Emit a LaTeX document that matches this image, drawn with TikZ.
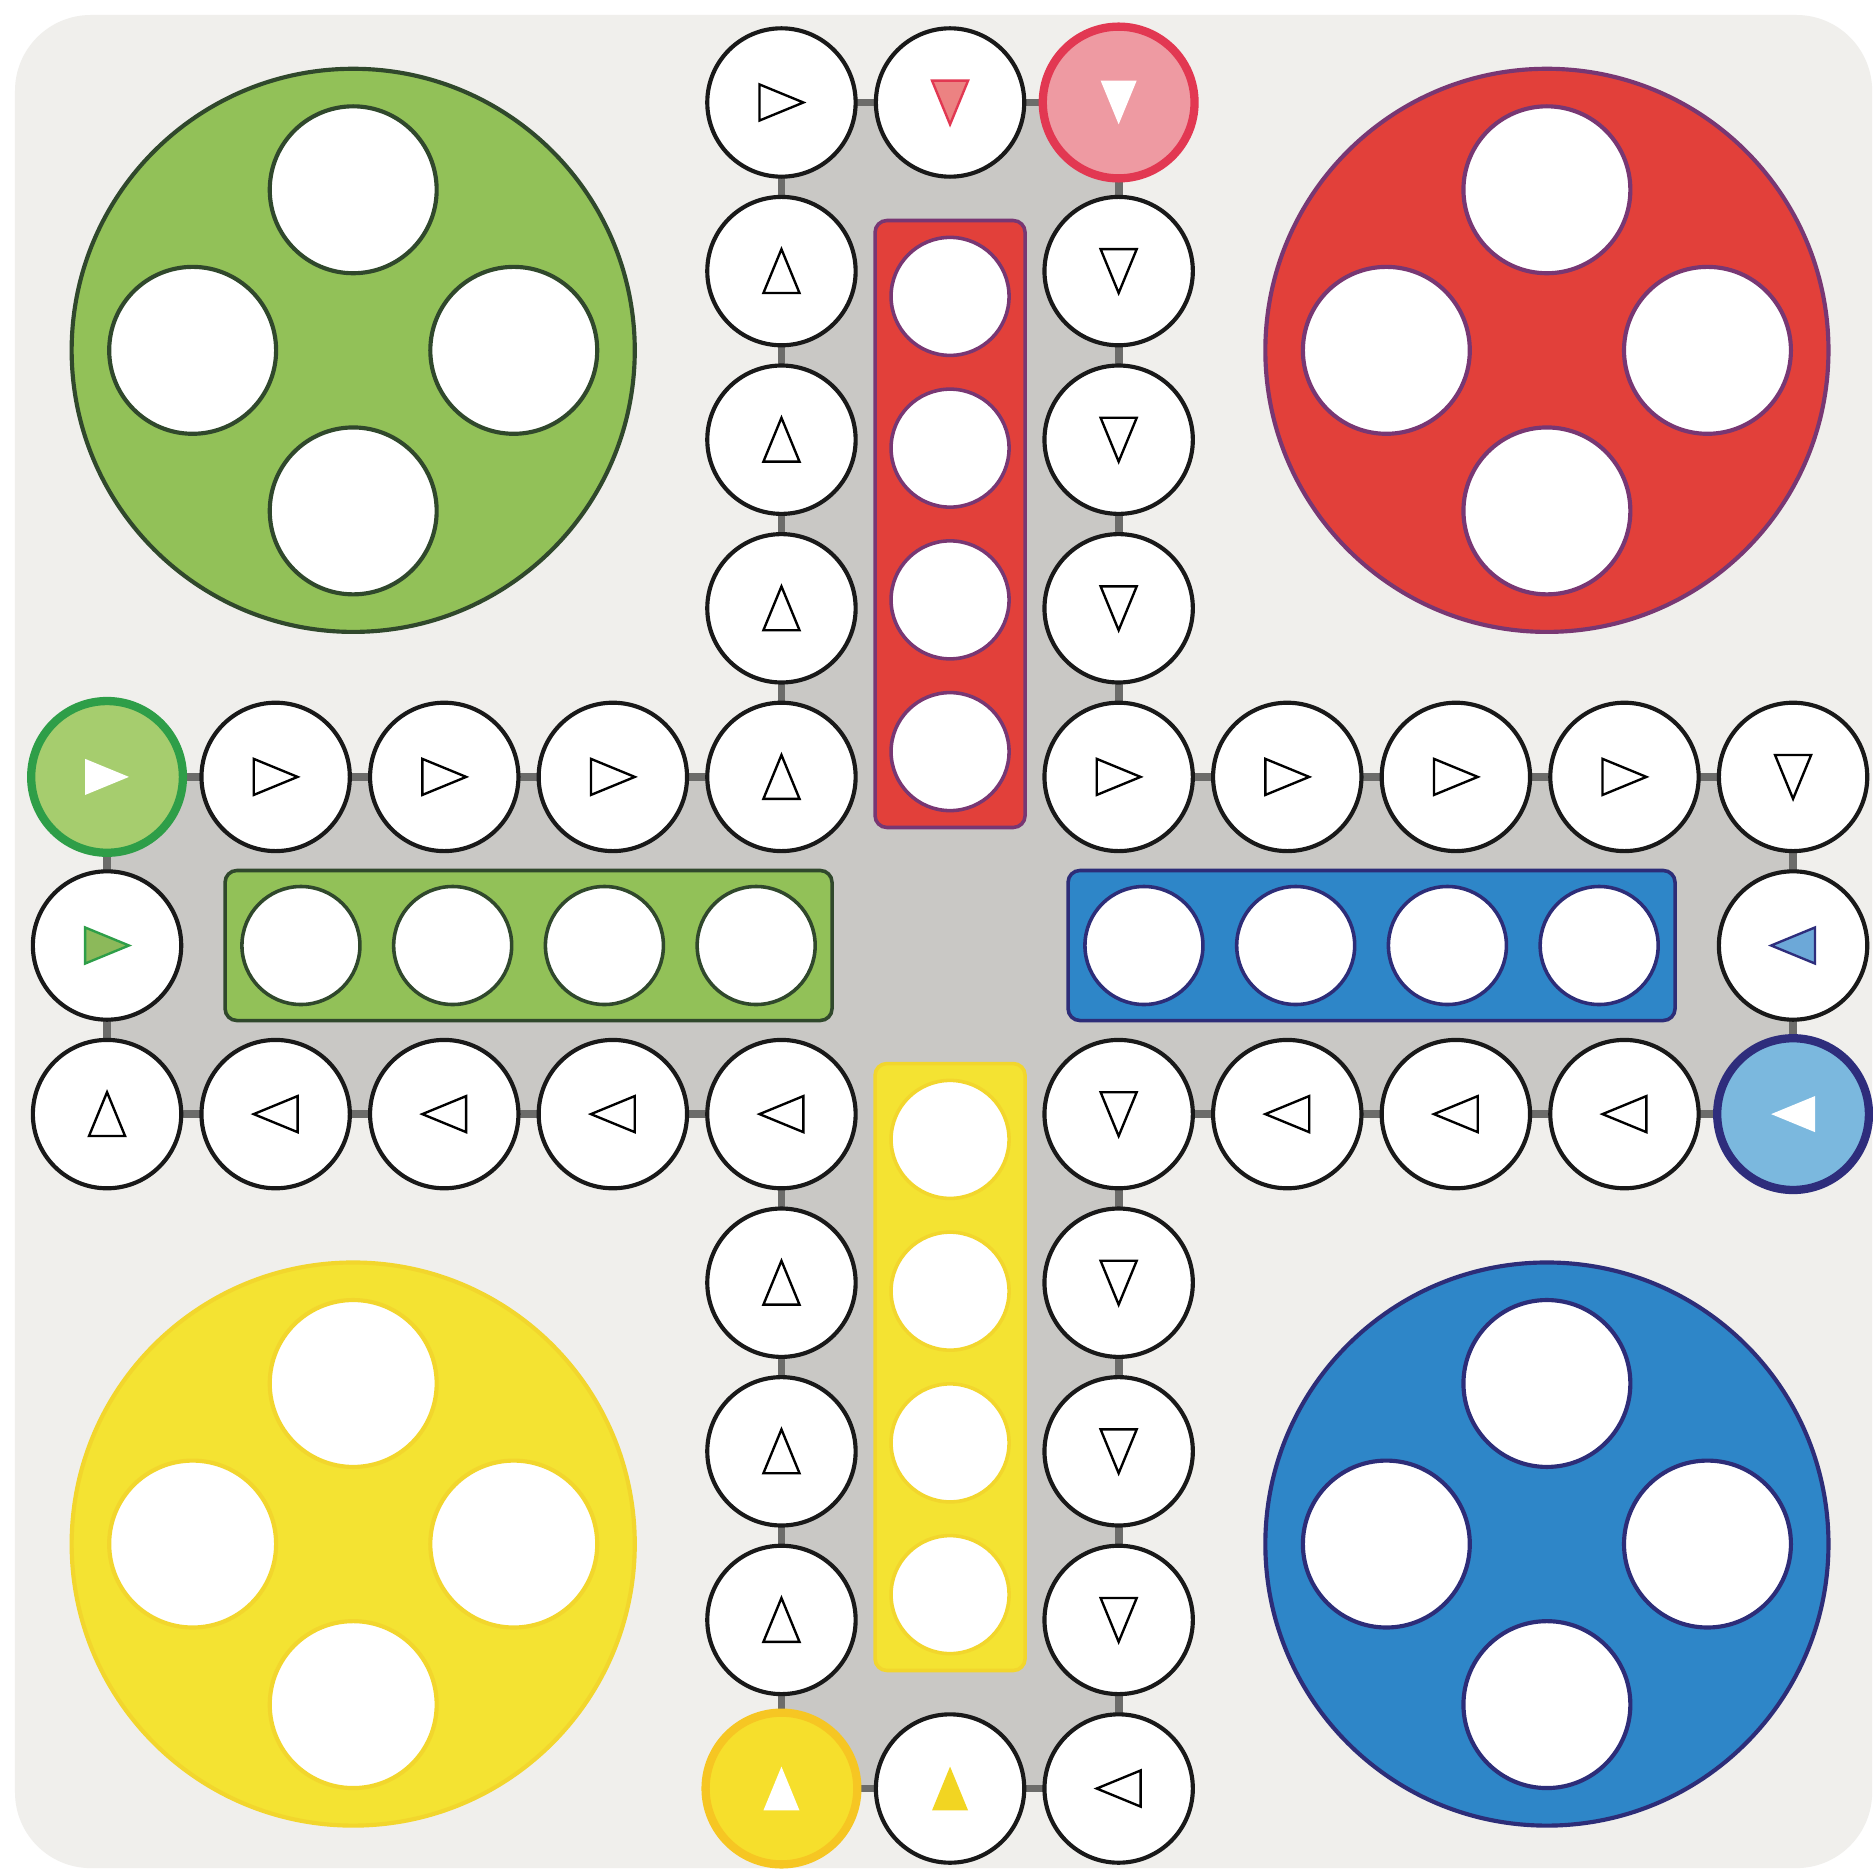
\documentclass[tikz,border=0pt]{standalone}
\usetikzlibrary{positioning, backgrounds}
\definecolor{boardgrey}{RGB}{240,239,236}
\definecolor{crossgrey}{RGB}{201,200,197}
\definecolor{linkgrey}{RGB}{108,108,106}
\definecolor{greenbase}{RGB}{146,193,88}
\definecolor{greenline}{RGB}{48,72,44}
\definecolor{greenstart}{RGB}{166,205,110}
\definecolor{greenring}{RGB}{46,158,72}
\definecolor{greenmark}{RGB}{140,185,90}
\definecolor{redbase}{RGB}{226,64,58}
\definecolor{redline}{RGB}{120,55,115}
\definecolor{redstart}{RGB}{238,154,162}
\definecolor{redring}{RGB}{226,56,82}
\definecolor{redmark}{RGB}{236,130,130}
\definecolor{bluebase}{RGB}{46,134,200}
\definecolor{blueline}{RGB}{45,45,120}
\definecolor{bluestart}{RGB}{123,184,222}
\definecolor{bluering}{RGB}{46,45,124}
\definecolor{bluemark}{RGB}{108,168,216}
\definecolor{yellowbase}{RGB}{244,227,50}
\definecolor{yellowline}{RGB}{242,214,45}
\definecolor{yellowstart}{RGB}{246,223,44}
\definecolor{yellowring}{RGB}{246,198,35}
\definecolor{yellowmark}{RGB}{242,213,34}

\begin{document}
\begin{tikzpicture}[
    cell/.style={circle, draw=black!90, line width=0.7pt, fill=white, minimum size=0.88cm, inner sep=0pt},
    startcell/.style={cell, line width=1.4pt, minimum size=0.9cm, draw=#1ring, fill=#1start},
    yard/.style={circle, draw=#1line, line width=0.7pt, fill=#1base, minimum size=3.34cm, inner sep=0pt},
    hole/.style={circle, draw=#1line, line width=0.7pt, fill=white, minimum size=0.99cm, inner sep=0pt},
    lane/.style={rectangle, draw=#1line, line width=0.6pt, fill=#1base, rounded corners=2pt, inner sep=0pt},
    spot/.style={circle, draw=#1line, line width=0.6pt, fill=white, minimum size=0.7cm, inner sep=0pt},
    link/.style={line width=1.3pt, linkgrey},
    plaintri/.style={draw=black, fill=white},
    whitetri/.style={draw=none, fill=white},
    redtri/.style={draw=redring, fill=redmark},
    greentri/.style={draw=greenring, fill=greenmark},
    bluetri/.style={draw=bluering, fill=bluemark},
    yellowtri/.style={draw=none, fill=yellowmark},
    pics/tri/.style={code={\draw[line width=0.4pt, line join=miter, #1] (-0.107,-0.13) -- (0.107,-0.13) -- (0,0.13) -- cycle;}}
]
\useasboundingbox (-5.635,-5.507) rectangle (5.474,5.608);

% 四个基地
\foreach \col/\x/\y in {green/-3.54/3.53, red/3.54/3.53, yellow/-3.54/-3.55, blue/3.54/-3.55}{
  \node[yard=\col] (\col_yard) at (\x,\y) {};
  \node[hole=\col, above=0.445cm of \col_yard.center] (\col_hole1) {};
  \node[hole=\col, left=0.445cm of \col_yard.center] (\col_hole2) {};
  \node[hole=\col, below=0.445cm of \col_yard.center] (\col_hole3) {};
  \node[hole=\col, right=0.445cm of \col_yard.center] (\col_hole4) {};
}

% 终点通道
\node[lane=red, minimum width=0.89cm, minimum height=3.6cm] (red_lane) at (0,2.5) {};
\node[lane=yellow, minimum width=0.89cm, minimum height=3.6cm] (yellow_lane) at (0,-2.5) {};
\node[lane=green, minimum width=3.6cm, minimum height=0.89cm] (green_lane) at (-2.5,0) {};
\node[lane=blue, minimum width=3.6cm, minimum height=0.89cm] (blue_lane) at (2.5,0) {};
\foreach \d [count=\k] in {1.15,2.05,2.95,3.85}{
  \node[spot=red] (red_spot\k) at (0,\d) {};
  \node[spot=yellow] (yellow_spot\k) at (0,-\d) {};
  \node[spot=green] (green_spot\k) at (-\d,0) {};
  \node[spot=blue] (blue_spot\k) at (\d,0) {};
}

% 上方通道
\foreach \j in {0,...,4} \node[cell] (c4r\j) at (-1,5-\j) {};
\foreach \j in {1,...,4} \node[cell] (c6r\j) at (1,5-\j) {};
\node[cell] (c5r0) at (0,5) {};
\node[startcell=red] (c6r0) at (1,5) {};

% 左侧通道
\foreach \i in {1,...,3} \node[cell] (c\i r4) at (\i-5,1) {};
\foreach \i in {0,...,3} \node[cell] (c\i r6) at (\i-5,-1) {};
\node[cell] (c0r5) at (-5,0) {};
\node[startcell=green] (c0r4) at (-5,1) {};

% 右侧通道
\foreach \i in {7,...,10} \node[cell] (c\i r4) at (\i-5,1) {};
\foreach \i in {6,...,9} \node[cell] (c\i r6) at (\i-5,-1) {};
\node[cell] (c10r5) at (5,0) {};
\node[startcell=blue] (c10r6) at (5,-1) {};

% 下方通道
\foreach \j in {6,...,9} \node[cell] (c4r\j) at (-1,5-\j) {};
\foreach \j in {7,...,10} \node[cell] (c6r\j) at (1,5-\j) {};
\node[cell] (c5r10) at (0,-5) {};
\node[startcell=yellow] (c4r10) at (-1,-5) {};

% 方向箭头
\foreach \c in {c4r1,c4r2,c4r3,c4r4,c0r6,c4r7,c4r8,c4r9} \pic at (\c) {tri=plaintri};
\foreach \c in {c6r1,c6r2,c6r3,c10r4,c6r6,c6r7,c6r8,c6r9} \pic[rotate=180] at (\c) {tri=plaintri};
\foreach \c in {c4r0,c1r4,c2r4,c3r4,c6r4,c7r4,c8r4,c9r4} \pic[rotate=-90] at (\c) {tri=plaintri};
\foreach \c in {c1r6,c2r6,c3r6,c4r6,c7r6,c8r6,c9r6,c6r10} \pic[rotate=90] at (\c) {tri=plaintri};

% 起点与入口标记
\pic[rotate=180] at (c6r0) {tri=whitetri};
\pic[rotate=-90] at (c0r4) {tri=whitetri};
\pic[rotate=90] at (c10r6) {tri=whitetri};
\pic at (c4r10) {tri=whitetri};
\pic[rotate=180] at (c5r0) {tri=redtri};
\pic[rotate=-90] at (c0r5) {tri=greentri};
\pic[rotate=90] at (c10r5) {tri=bluetri};
\pic at (c5r10) {tri=yellowtri};

% 底板、十字区域与连接线
\begin{scope}[on background layer]
\fill[white] (-5.635,-5.507) rectangle (5.474,5.608);
\fill[boardgrey, rounded corners=0.45cm] (-5.546,-5.472) rectangle (5.469,5.519);
\fill[crossgrey] (-1,5) -- (1,5) -- (1,1) -- (5,1) -- (5,-1) -- (1,-1) -- (1,-5) -- (-1,-5) -- (-1,-1) -- (-5,-1) -- (-5,1) -- (-1,1) -- cycle;
\draw[link] (c4r4.center) -- (c4r0.center) -- (c6r0.center) -- (c6r4.center) -- (c10r4.center) -- (c10r6.center) -- (c6r6.center) -- (c6r10.center) -- (c4r10.center) -- (c4r6.center) -- (c0r6.center) -- (c0r4.center) -- cycle;
\end{scope}

\end{tikzpicture}
\end{document}
